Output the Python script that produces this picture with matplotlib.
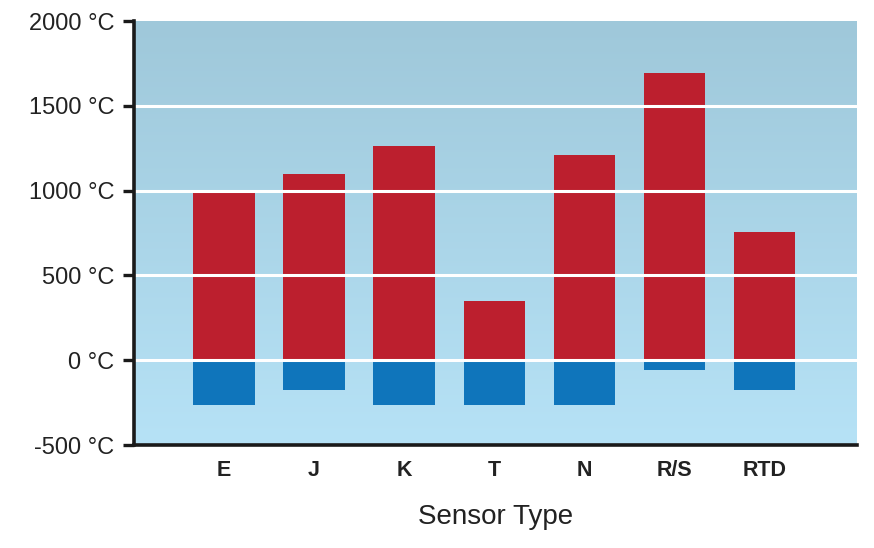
import numpy as np
import matplotlib
matplotlib.use('Agg')
import matplotlib.pyplot as plt
from matplotlib.colors import LinearSegmentedColormap

# Sensor temperature ranges (deg C)
sensors = ['E', 'J', 'K', 'T', 'N', 'R/S', 'RTD']
max_temp = [1000, 1100, 1265, 350, 1210, 1695, 755]
min_temp = [-265, -175, -265, -265, -265, -55, -175]
y_ticks = [-500, 0, 500, 1000, 1500, 2000]

red = '#bc1f2e'
blue = '#0f75bb'

plt.rcParams['font.family'] = ['Liberation Sans', 'DejaVu Sans']

fig = plt.figure(figsize=(8.74, 5.48), dpi=100)
ax = fig.add_axes([134 / 874, 103 / 548, 723 / 874, 424 / 548])

# Background gradient (light at bottom, darker at top)
grad = LinearSegmentedColormap.from_list('bg', ['#b6e2f6', '#9fc8da'])
ax.imshow(np.linspace(0, 1, 256).reshape(-1, 1), cmap=grad, aspect='auto',
          origin='lower', extent=(0, 1, 0, 1), transform=ax.transAxes, zorder=0)

x = np.arange(1, len(sensors) + 1)
ax.bar(x, max_temp, width=0.68, color=red, zorder=2)
ax.bar(x, min_temp, width=0.68, color=blue, zorder=2)

ax.set_xlim(0, 8.03)
ax.set_ylim(-500, 2000)
ax.set_yticks(y_ticks)
ax.set_yticklabels([f'{v} °C' for v in y_ticks], fontsize=17, color='#222222')
ax.set_xticks(x)
ax.set_xticklabels(sensors, fontsize=15.5, fontweight='bold', color='#222222')

for v in y_ticks[1:-1]:
    ax.axhline(v, color='white', lw=2.2, zorder=3)

ax.tick_params(axis='y', length=8, width=2.4, pad=6, color='#1a1a1a')
ax.tick_params(axis='x', length=0, pad=11)

for side in ['top', 'right']:
    ax.spines[side].set_visible(False)
for side in ['left', 'bottom']:
    ax.spines[side].set_linewidth(2.6)
    ax.spines[side].set_color('#1a1a1a')
    ax.spines[side].set_zorder(4)

ax.set_xlabel('Sensor Type', fontsize=20, labelpad=16, color='#222222')

fig.savefig('out.png', dpi=100)
